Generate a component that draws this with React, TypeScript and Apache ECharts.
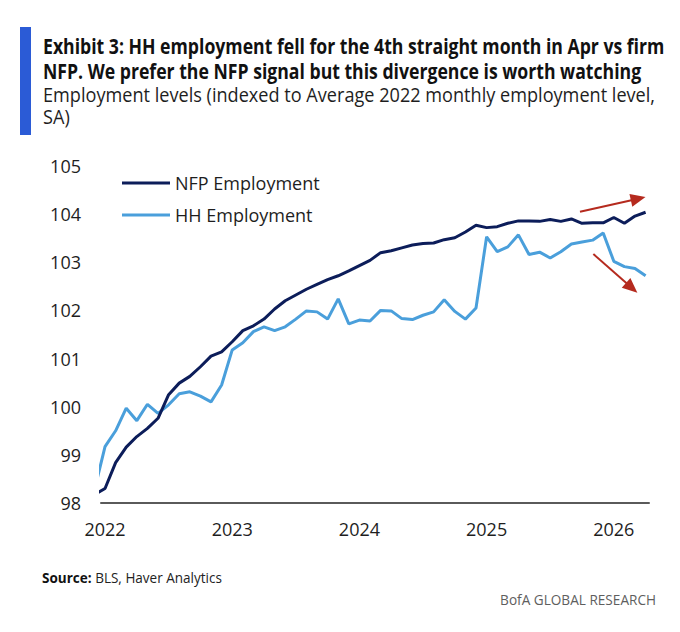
import React, { useEffect, useRef } from "react";
import * as echarts from "echarts";

// Month labels: index -1 = Dec 2021, 0 = Jan 2022 ... 51 = Apr 2026
const startYear = 2021;
const startMonth = 12;
const months: string[] = [];
for (let k = 0; k < 53; k++) {
  const m = ((startMonth - 1 + k) % 12) + 1;
  const y = startYear + Math.floor((startMonth - 1 + k) / 12);
  months.push(`${y}-${String(m).padStart(2, "0")}`);
}

const nfpValues = [
  98.17, 98.3, 98.84, 99.16, 99.38, 99.55, 99.76, 100.25, 100.49, 100.63, 100.83, 101.05, 101.14,
  101.35, 101.58, 101.68, 101.82, 102.03, 102.2, 102.32, 102.44, 102.54, 102.64, 102.72, 102.82,
  102.93, 103.04, 103.2, 103.24, 103.3, 103.36, 103.39, 103.4, 103.47, 103.51, 103.63, 103.77,
  103.72, 103.74, 103.81, 103.86, 103.86, 103.85, 103.89, 103.85, 103.9, 103.81, 103.82, 103.82,
  103.93, 103.81, 103.96, 104.04,
];

const hhValues = [
  98.27, 99.17, 99.5, 99.97, 99.71, 100.05, 99.86, 100.04, 100.27, 100.31, 100.22, 100.1, 100.45,
  101.18, 101.33, 101.56, 101.66, 101.58, 101.66, 101.82, 101.99, 101.97, 101.82, 102.24, 101.72,
  101.8, 101.78, 102.0, 101.99, 101.83, 101.81, 101.9, 101.97, 102.22, 101.98, 101.82, 102.05,
  103.53, 103.22, 103.32, 103.57, 103.16, 103.21, 103.09, 103.22, 103.38, 103.42, 103.46, 103.61,
  103.02, 102.91, 102.87, 102.72,
];

const yearTickIdx = [0, 12, 24, 36, 48];
const yearLabels = ["2022", "2023", "2024", "2025", "2026"];

// annotation arrows: [startIdx, startVal, endIdx, endVal]
const arrowUp = [44.81, 104.05, 50.3, 104.32];
const arrowDown = [46.07, 103.17, 49.69, 102.47];

const seriesNames = ["NFP Employment", "HH Employment"];
const titleLines = [
  "Exhibit 3: HH employment fell for the 4th straight month in Apr vs firm",
  "NFP. We prefer the NFP signal but this divergence is worth watching",
];
const subtitleLines = [
  "Employment levels (indexed to Average 2022 monthly employment level,",
  "SA)",
];
const sourceBold = "Source:";
const sourceText = " BLS, Haver Analytics";
const brandText = "BofA GLOBAL RESEARCH";

const FONT = "'Open Sans', sans-serif";

function measure(text: string, font: string): number {
  const c = document.createElement("canvas").getContext("2d");
  if (!c) return text.length * 10;
  c.font = font;
  return c.measureText(text).width;
}

export default function App() {
  const ref = useRef<HTMLDivElement>(null);
  useEffect(() => {
    if (!ref.current) return;
    const chart = echarts.init(ref.current, undefined, { renderer: "svg" });

    const toPairs = (vals: number[]) => vals.map((v, k) => [k - 1, v]);

    const titleFs = 21.5;
    const titleSx = 622 / measure(titleLines[0], `bold ${titleFs}px ${FONT}`);
    const subFs = 20;
    const subSx = 612 / measure(subtitleLines[0], `normal ${subFs}px ${FONT}`);
    const srcFs = 14.5;
    const srcSx =
      180 /
      (measure(sourceBold, `bold ${srcFs}px ${FONT}`) +
        measure(sourceText, `normal ${srcFs}px ${FONT}`));
    const brandFs = 15;
    const brandSx = 156 / measure(brandText, `normal ${brandFs}px ${FONT}`);

    const red = "#b52a1e";
    const arrowLine = (a: number[]) => [{ coord: [a[0], a[1]] }, { coord: [a[2], a[3]] }];

    const textEl = (
      txt: string,
      x: number,
      y: number,
      fs: number,
      sx: number,
      weight: string,
      fill: string,
      align = "left"
    ) => ({
      type: "text",
      x,
      y,
      scaleX: sx,
      style: {
        text: txt,
        fontFamily: FONT,
        fontWeight: weight,
        fontSize: fs,
        fill,
        align,
        verticalAlign: "middle",
      },
    });

    chart.setOption({
      animation: false,
      backgroundColor: "#ffffff",
      grid: { left: 101, right: 31, top: 166, bottom: 129, containLabel: false },
      legend: {
        orient: "vertical",
        left: 122,
        top: 174,
        itemWidth: 48,
        itemHeight: 3,
        itemGap: 14,
        padding: 0,
        icon: "rect",
        selectedMode: false,
        data: seriesNames,
        textStyle: { fontFamily: FONT, fontSize: 18, color: "#1e1e1e" },
      },
      xAxis: {
        type: "value",
        min: -0.38,
        max: 51.32,
        axisLine: { show: true, lineStyle: { color: "#5a5a5a", width: 2 } },
        axisTick: { show: false },
        splitLine: { show: false },
        axisLabel: {
          customValues: yearTickIdx,
          formatter: (v: number) => yearLabels[yearTickIdx.indexOf(Math.round(v))] ?? "",
          fontFamily: FONT,
          fontSize: 18,
          color: "#1e1e1e",
          margin: 17,
        },
      },
      yAxis: {
        type: "value",
        min: 98,
        max: 105,
        interval: 1,
        axisLine: { show: false },
        axisTick: { show: false },
        splitLine: { show: false },
        axisLabel: { fontFamily: FONT, fontSize: 18, color: "#1e1e1e", margin: 20 },
      },
      series: [
        {
          name: seriesNames[0],
          type: "line",
          data: toPairs(nfpValues),
          symbol: "none",
          clip: true,
          z: 3,
          lineStyle: { color: "#0c1d5a", width: 3 },
          itemStyle: { color: "#0c1d5a" },
          markLine: {
            silent: true,
            symbol: ["none", "triangle"],
            symbolSize: [13, 15],
            label: { show: false },
            lineStyle: { color: red, width: 2, type: "solid" },
            emphasis: { disabled: true },
            data: [arrowLine(arrowUp), arrowLine(arrowDown)],
          },
        },
        {
          name: seriesNames[1],
          type: "line",
          data: toPairs(hhValues),
          symbol: "none",
          clip: true,
          z: 2,
          lineStyle: { color: "#4a9fdb", width: 3 },
          itemStyle: { color: "#4a9fdb" },
        },
      ],
      graphic: [
        { type: "rect", shape: { x: 20, y: 27, width: 11, height: 108 }, style: { fill: "#2b5bd6" } },
        textEl(titleLines[0], 43, 45.5, titleFs, titleSx, "bold", "#111111"),
        textEl(titleLines[1], 43, 71, titleFs, titleSx, "bold", "#111111"),
        textEl(subtitleLines[0], 43, 95, subFs, subSx, "normal", "#1e1e1e"),
        textEl(subtitleLines[1], 43, 117, subFs, subSx, "normal", "#1e1e1e"),
        {
          type: "text",
          x: 42,
          y: 577,
          scaleX: srcSx,
          style: {
            text: `{b|${sourceBold}}{r|${sourceText}}`,
            verticalAlign: "middle",
            rich: {
              b: { fontFamily: FONT, fontWeight: "bold", fontSize: srcFs, fill: "#111111" },
              r: { fontFamily: FONT, fontSize: srcFs, fill: "#222222" },
            },
          },
        },
        textEl(brandText, 656, 599, brandFs, brandSx, "normal", "#5e5e5e", "right"),
      ],
    });
    return () => chart.dispose();
  }, []);

  return (
    <div
      ref={ref}
      style={{ position: "fixed", left: 0, top: 0, width: 680, height: 632, background: "#fff" }}
    />
  );
}
